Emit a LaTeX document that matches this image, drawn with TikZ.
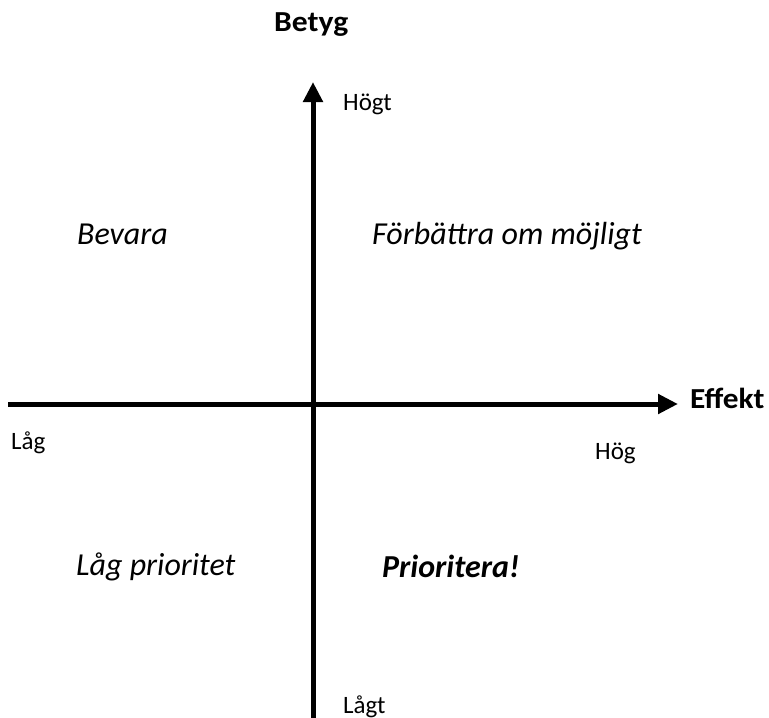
\documentclass[tikz,border=0pt]{standalone}
\usepackage{fontspec}
\setmainfont{Carlito}
\usetikzlibrary{arrows.meta}
\begin{document}
\begin{tikzpicture}[x=1pt,y=-1pt,
  axis/.style={line width=5pt,-{Triangle[width=19pt,length=20pt]}},
  lbl/.style={font=\fontsize{25}{30}\selectfont,inner sep=0pt,anchor=base west},
  quad/.style={font=\fontsize{32}{38}\selectfont\itshape,inner sep=0pt,anchor=base west},
  ttl/.style={font=\fontsize{29}{34}\selectfont\bfseries,inner sep=0pt,anchor=base west}]
\useasboundingbox (0,0) rectangle (769,718);
\coordinate (ys) at (313,718);
\coordinate (ye) at (313,82);
\coordinate (xs) at (8,404);
\coordinate (xe) at (678,404);
\draw[axis] (ys) -- (ye);
\draw[axis] (xs) -- (xe);
\node[ttl] (betyg) at (274,31) {\scalebox{1.09}[1]{Betyg}};
\node[ttl] (effekt) at (690,408) {\scalebox{1.08}[1]{Effekt}};
\node[lbl] (hogt) at (343,110) {Högt};
\node[lbl] (lagt) at (343,713) {Lågt};
\node[lbl] (lag) at (11,449) {Låg};
\node[lbl] (hog) at (595,459) {Hög};
\node[quad] (bevara) at (77,244) {Bevara};
\node[quad] (forb) at (372,244) {Förbättra om möjligt};
\node[quad] (lagp) at (76,575) {Låg prioritet};
\node[quad,font=\fontsize{32}{38}\selectfont\bfseries\itshape] (prio) at (382,577) {Prioritera!};
\end{tikzpicture}
\end{document}
